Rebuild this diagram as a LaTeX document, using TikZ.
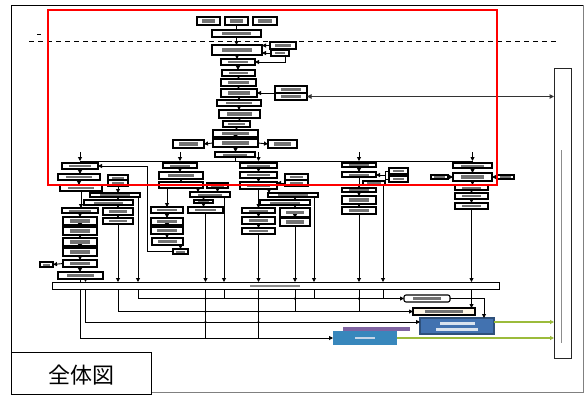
\documentclass[tikz,border=0pt]{standalone}
\usepackage{fontspec}
\newfontfamily\cjk{Noto Sans CJK JP}
\usetikzlibrary{arrows.meta}
\definecolor{grn}{HTML}{9BBB3B}
\definecolor{blu}{HTML}{4272B0}
\definecolor{pur}{HTML}{8064A2}
\definecolor{crm}{HTML}{FFF6E6}
\newcommand\plainbox[6][]{\node[bx,#1,minimum width={(#5-#3)*1pt},minimum height={(#6-#4)*1pt}] (#2) at ({(#3+#5)/2},{(#4+#6)/2}) {};}
\newcommand\mybox[6][]{\plainbox[#1]{#2}{#3}{#4}{#5}{#6}%
  \fill[txtbar] ({#3+0.2*(#5-#3)},{(#4+#6)/2-0.2*(#6-#4)}) rectangle ({#5-0.2*(#5-#3)},{(#4+#6)/2+0.2*(#6-#4)});}
\begin{document}
\begin{tikzpicture}[x=1pt,y=-1pt,
  bx/.style={draw=black,line width=1.1pt,fill=white,inner sep=0pt,outer sep=0pt},
  thinbx/.style={line width=0.8pt},
  txtbar/.style={fill=black!55},
  ar/.style={line width=0.9pt,-{Triangle[length=4pt,width=4pt]}},
  ln/.style={line width=0.9pt},
  dar/.style={line width=1pt,black!80,{Triangle[length=4.5pt,width=4.5pt]}-{Triangle[length=4.5pt,width=4.5pt]}},
  gar/.style={line width=2pt,grn,-{Triangle[length=4pt,width=4pt]}},
  dot/.style={circle,fill=black,inner sep=0pt,minimum size=2.5pt}]
\useasboundingbox (0,0) rectangle (585,394);
\fill[white] (0,0) rectangle (585,394);
% outer frame
\draw[line width=0.9pt] (11,392) -- (11,5) -- (583,5);
\draw[line width=0.9pt,black!50] (583,5) -- (583,392) -- (151,392);
% dashed line
\draw[line width=0.7pt,dash pattern=on 5pt off 4pt] (29,41) -- (558,41);
\draw[line width=0.6pt] (37,34) -- (41,34);
% top section
\mybox{t1}{197}{17}{220}{25}
\mybox{t2}{225}{17}{248}{25}
\mybox{t3}{253}{17}{277}{25}
\mybox{m1}{212}{30}{261}{37}
\mybox{m2}{212}{45}{262}{55}
\mybox{s1}{270}{42}{296}{49}
\mybox{s2}{271}{50}{289}{56}
\mybox{m3}{221}{59}{255}{65}
\mybox{m4}{222}{70}{255}{76}
\mybox{m5}{221}{79}{256}{86}
\mybox{m6}{221}{89}{257}{97}
\mybox{s3}{275}{86}{307}{93}
\mybox{s4}{275}{93}{307}{100}
\mybox{m7}{217}{100}{261}{106}
\mybox{m8}{219}{110}{260}{118}
\mybox{m9}{223}{121}{250}{127}
\mybox{m10}{213}{130}{258}{137}
\mybox{m11}{213}{139}{258}{147}
\mybox{s5}{173}{140}{204}{148}
\mybox{s6}{268}{140}{297}{148}
\mybox{m12}{215}{152}{255}{157}
% column 1
\mybox{c1a}{62}{163}{98}{169}
\mybox{c1b}{58}{174}{100}{180}
\mybox{c1c}{60}{185}{102}{191}
\mybox{c1r1}{108}{175}{128}{180}
\mybox{c1r2}{108}{180}{128}{186}
\mybox{c1w1}{90}{193}{140}{197}
\mybox{c1w2}{84}{200}{133}{205}
\mybox{c1d}{62}{208}{98}{213}
\mybox{c1e}{63}{217}{97}{225}
\mybox{c1f}{63}{227}{97}{235}
\mybox{c1g}{63}{238}{97}{246}
\mybox{c1h}{63}{248}{97}{256}
\mybox{c1i}{63}{260}{97}{267}
\mybox{c1x}{40}{262}{53}{267}
\mybox{c1j}{58}{272}{103}{279}
\mybox{c1k}{103}{208}{133}{215}
\mybox{c1l}{103}{218}{133}{224}
% column 2
\mybox{c2a}{163}{163}{197}{168}
\mybox{c2b}{159}{172}{203}{179}
\mybox{c2c}{159}{182}{203}{188}
\mybox{c2r}{207}{183}{228}{188}
\mybox{c2w1}{190}{192}{230}{197}
\mybox{c2s}{194}{200}{213}{203}
\mybox{c2w2}{188}{207}{223}{213}
\mybox{c2d}{151}{207}{183}{213}
\mybox{c2e}{151}{218}{183}{225}
\mybox{c2f}{151}{227}{183}{234}
\mybox{c2g}{152}{238}{183}{245}
\mybox{c2h}{173}{249}{188}{254}
% column 3
\mybox{c3a}{240}{163}{277}{168}
\mybox{c3b}{240}{172}{277}{178}
\mybox{c3c}{240}{182}{277}{189}
\mybox{c3r1}{285}{174}{308}{180}
\mybox{c3r2}{285}{180}{308}{186}
\mybox{c3w1}{268}{193}{318}{197}
\mybox{c3w2}{260}{200}{310}{205}
\mybox{c3d}{242}{208}{275}{213}
\mybox{c3e}{242}{217}{275}{224}
\mybox{c3f}{242}{228}{275}{234}
\mybox{c3k}{280}{208}{310}{217}
\mybox{c3l}{280}{218}{310}{226}
% column 4
\mybox{c4a}{342}{163}{376}{167}
\mybox{c4b}{342}{172}{376}{177}
\mybox{c4r1}{389}{168}{408}{174}
\mybox{c4r2}{389}{176}{408}{182}
\mybox{c4s}{363}{181}{385}{185}
\mybox{c4c}{342}{188}{376}{192}
\mybox{c4d}{342}{196}{376}{204}
\mybox{c4e}{342}{207}{376}{214}
% column 5
\mybox{c5a}{453}{163}{492}{168}
\mybox{c5b}{453}{173}{492}{181}
\mybox{c5l}{431}{175}{448}{179}
\mybox{c5rr}{497}{175}{514}{179}
\mybox{c5c}{455}{185}{488}{190}
\mybox{c5d}{455}{193}{488}{199}
\mybox{c5e}{455}{203}{488}{209}
% bar and right box
\plainbox[thinbx]{bar}{52}{282}{499}{289}
\fill[black!45] (250,284.5) rectangle (300,286.5);
\plainbox[thinbx,draw=black!85]{tall}{554}{68}{571}{358}
\draw[black!45,line width=0.5pt] (561,150) -- (561,343);
% bottom boxes
\mybox[rounded corners=2pt]{R1}{404}{295}{450}{302}
\mybox[fill=crm]{R2}{413}{308}{475}{315}
\plainbox[fill=blu,draw=blu!70!black]{R3}{420}{318}{494}{334}
\fill[white!80!blu] (440,321.5) rectangle (475,324.5);
\fill[white!80!blu] (436,327.5) rectangle (478,330.5);
\fill[pur] (343,327) rectangle (410,331);
\plainbox[fill=blu!85!cyan,draw=none]{R4}{333}{331}{397}{345}
\fill[white!70!blu] (355,336.5) rectangle (375,339);
% helper coordinates
\coordinate (x85) at ([xshift=5pt]c1j.south);
\coordinate (x138) at ([xshift=-2pt]c1w1.south east);
\coordinate (x224) at ([xshift=-6pt]c2w1.south east);
\coordinate (x314) at ([xshift=-4pt]c3w1.south east);
\coordinate (x381) at ([xshift=-2pt]c4s.south east);
\coordinate (r3in) at ([yshift=4pt]R3.west);
\coordinate (r3out) at ([yshift=4pt]R3.east);
\coordinate (r3top) at ([xshift=-10pt]R3.north east);
% ---------- connectors ----------
\draw[ln] (t2.south) -- (t2.south |- m1.north);
\foreach \a/\b in {m1/m2,m2/m3,m3/m4,m4/m5,m5/m6,m6/m7,m7/m8,m8/m9,m9/m10,m10/m11,m11/m12,
  c1a/c1b,c1b/c1c,c1d/c1e,c1e/c1f,c1f/c1g,c1g/c1h,c1h/c1i,c1i/c1j,c1r2/c1w1,c1k/c1l,
  c2a/c2b,c2b/c2c,c2r/c2w1,c2d/c2e,c2e/c2f,c2f/c2g,
  c3a/c3b,c3b/c3c,c3c/c3d,c3d/c3e,c3e/c3f,c3k/c3l,
  c4a/c4b,c4b/c4c,c4c/c4d,c4d/c4e,
  c5a/c5b,c5b/c5c,c5c/c5d,c5d/c5e}
  {\draw[ar] (\a.south) -- (\a.south |- \b.north);}
\draw[ar] (s1.west) -- (s1.west -| m2.east);
\draw[ar] (s2.west) -- (s2.west -| m2.east);
\draw[ar] ([xshift=-4pt]s2.south east) |- (m3.east);
\draw[ar] (s3.south west) -- (s3.south west -| m6.east);
\draw[dar] (s4.east) -- (s4.east -| tall.west);
\draw[ar] (m11.west) -- (s5.east);
\draw[ar] (m11.east) -- (s6.west);
% bus
\coordinate (busy) at (0,161);
\coordinate (stub) at (0,152);
\draw[ln] (m12.south) -- (m12.south |- busy);
\draw[ln] (c1a.north |- busy) -- (c5a.north |- busy);
\foreach \c in {c1a,c2a,c3a,c4a,c5a}{
  \draw[ar] (\c.north |- stub) -- (\c.north |- busy);
  \draw[ln] (\c.north |- busy) -- (\c.north);}
% column 1 extras
\draw[ar] (c1c.south) -- (c1c.south |- c1d.north);
\draw[ar] (c1i.west) -- (c1x.east);
\draw[ar] (c1w1.south -| c1k) -- (c1w2.north -| c1k);
\draw[ar] (c1w2.south -| c1k) -- (c1k.north);
% column 2 extras
\draw[ar] (c2c.south -| c2d) -- (c2d.north);
\draw[ar] ([xshift=-5pt]c2c.south east) -- ([xshift=-5pt]c2c.south east |- c2w1.north);
\draw[ar] (c2w1.south -| c2s) -- (c2s.north);
\draw[ar] (c2s.south) -- (c2s.south |- c2w2.north);
\draw[ar] (c2g.south -| c2h) -- (c2h.north);
\coordinate (lp) at (147,0);
\draw[ar] (c2h.west) -- (c2h.west -| lp) -- (lp |- c1a.east) -- (c1a.east);
% column 3 extras
\draw[ar] (c3r2.west) -- (c3r2.west -| c3c.east);
\draw[ar] ([xshift=-8pt]c3c.south east) -- ([xshift=-8pt]c3c.south east |- c3w1.north);
\draw[ar] (c3w1.south -| c3k) -- (c3w2.north -| c3k);
\draw[ar] (c3w2.south -| c3k) -- (c3k.north);
% column 4 extras
\coordinate (c4j) at (385,175);
\draw[ln] (c4r1.west) -| (c4j);
\draw[ln] (c4r2.west) -| (c4j);
\draw[ar] (c4j) -- (c4j -| c4b.east);
% column 5 extras
\draw[ar] (c5l.east) -- (c5l.east -| c5b.west);
\draw[ar] (c5rr.west) -- (c5rr.west -| c5b.east);
% into the bar
\foreach \c in {c1l,c2w2,c3f,c3l,c4e,c5e}{\draw[ar] (\c.south) -- (\c.south |- bar.north);}
\draw[ln] (c1j.south) -- (c1j.south |- bar.north);
\foreach \c in {x85,x138,x224,x314,x381}{\draw[ar] (\c) -- (\c |- bar.north);}
% below the bar
\draw[ar] (bar.south -| c1j) |- (R4.west);
\draw[ar] (bar.south -| x85) |- (r3in);
\draw[ar] (bar.south -| c1l) |- (R2.west);
\draw[ar] (bar.south -| x138) |- (R1.west);
\draw[ln] (bar.south -| c2w2) -- (c2w2 |- R4.west);
\draw[ln] (bar.south -| c3f) -- (c3f |- R4.west);
\draw[ln] (bar.south -| x224) -- (x224 |- R1.west);
\draw[ln] (bar.south -| c3l) -- (c3l |- R2.west);
\draw[ln] (bar.south -| x314) -- (x314 |- R1.west);
\draw[ln] (bar.south -| c4e) -- (c4e |- R2.west);
\draw[ln] (bar.south -| x381) -- (x381 |- R1.west);
\foreach \c in {c2w2,c3f}{
  \node[dot] at (\c |- R1.west) {};
  \node[dot] at (\c |- R2.west) {};
  \node[dot] at (\c |- r3in) {};}
\node[dot] at (c3l |- R1.west) {};
\node[dot] at (c4e |- R1.west) {};
\draw[ar] (bar.south -| c5e) -- (c5e |- R2.north);
\draw[ar] (R1.east) -| (r3top);
\draw[gar] (r3out) -- (r3out -| tall.west);
\draw[gar] (R4.east) -- (R4.east -| tall.west);
% red frame
\draw[red,line width=2.5pt] (48,10) rectangle (497,185);
% label
\node[draw,line width=0.9pt,minimum width=140pt,minimum height=42pt,inner sep=0pt] (lblbox) at (81,373) {};
\node[font=\cjk\fontsize{22}{22}\selectfont] (lbl) at (81,375) {全体図};
\end{tikzpicture}
\end{document}
